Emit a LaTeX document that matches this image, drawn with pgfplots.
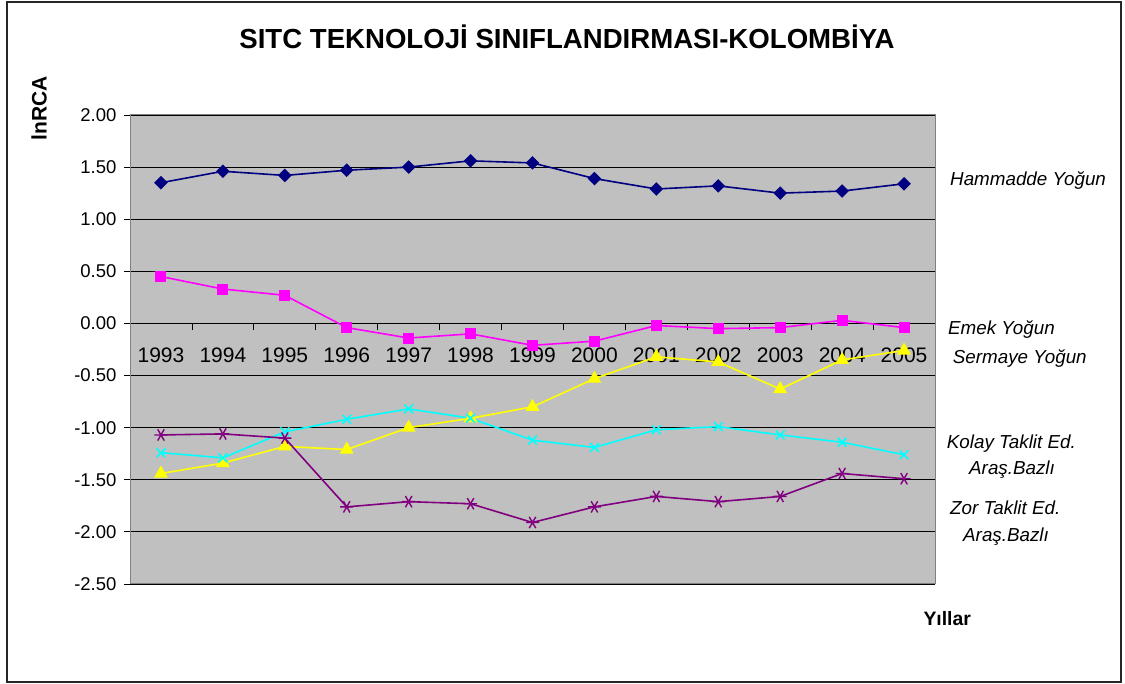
\documentclass[border=0pt]{standalone}
\usepackage{pgfplots}
\pgfplotsset{compat=1.18}
\usepackage{fontspec}
\setmainfont{Liberation Sans}
\definecolor{plotbg}{HTML}{C0C0C0}
\definecolor{navyc}{HTML}{000080}
\definecolor{magc}{HTML}{FF00FF}
\definecolor{yelc}{HTML}{FFFF00}
\definecolor{cyac}{HTML}{00FFFF}
\definecolor{purc}{HTML}{800080}
\definecolor{pborder}{HTML}{808080}
\begin{document}
\begin{tikzpicture}[x=1pt,y=1pt]
\path (0,0) rectangle (1125,684);
\draw[line width=1.3pt, black!85] (7,2) rectangle (1121,682);
\begin{axis}[
  at={(130pt,100pt)}, anchor=south west,
  width=805pt, height=469pt, scale only axis,
  xmin=0.5, xmax=13.5, ymin=-2.5, ymax=2,
  axis x line=middle, axis y line=left,
  axis line style={-, black, line width=0.8pt},
  hide obscured x ticks=false, hide obscured y ticks=false,
  xtick={1,2,3,4,5,6,7,8,9,10,11,12,13},
  xticklabels={1993,1994,1995,1996,1997,1998,1999,2000,2001,2002,2003,2004,2005},
  major x tick style={draw=none},
  minor xtick={0.5,1.5,...,13.5},
  ytick={-2.5,-2,...,2},
  ymajorgrids, grid style={black, line width=0.8pt},
  tick align=outside, major tick length=6pt, minor tick length=7pt,
  tick style={black, line width=0.8pt},
  axis background/.style={fill=plotbg},
  /pgf/number format/assume math mode=true,
  yticklabel style={font=\fontsize{18.5}{20}\selectfont, xshift=-4pt, /pgf/number format/fixed, /pgf/number format/fixed zerofill, /pgf/number format/precision=2},
  xticklabel style={font=\fontsize{21}{24}\selectfont, yshift=-15pt},
  clip=false,
]
\draw[pborder, line width=1pt] (rel axis cs:0,0) rectangle (rel axis cs:1,1);
\addplot[color=navyc, line width=1.6pt, mark=square*, mark size=4pt, mark options={rotate=45, solid, fill=navyc}] coordinates {
(1,1.35)(2,1.46)(3,1.42)(4,1.47)(5,1.50)(6,1.56)(7,1.54)(8,1.39)(9,1.29)(10,1.32)(11,1.25)(12,1.27)(13,1.34)};
\addplot[color=magc, line width=1.6pt, mark=square*, mark size=4.7pt, mark options={solid, fill=magc}] coordinates {
(1,0.45)(2,0.33)(3,0.27)(4,-0.04)(5,-0.14)(6,-0.10)(7,-0.21)(8,-0.17)(9,-0.02)(10,-0.05)(11,-0.04)(12,0.03)(13,-0.04)};
\addplot[color=yelc, line width=1.6pt, mark=triangle*, mark size=6.4pt, mark options={solid, fill=yelc}] coordinates {
(1,-1.44)(2,-1.34)(3,-1.18)(4,-1.21)(5,-1.00)(6,-0.91)(7,-0.80)(8,-0.53)(9,-0.32)(10,-0.37)(11,-0.63)(12,-0.35)(13,-0.26)};
\addplot[color=cyac, line width=1.6pt, mark=x, mark size=6.2pt, mark options={solid, line width=1.6pt}] coordinates {
(1,-1.24)(2,-1.29)(3,-1.04)(4,-0.92)(5,-0.82)(6,-0.91)(7,-1.12)(8,-1.19)(9,-1.02)(10,-0.99)(11,-1.07)(12,-1.14)(13,-1.26)};
\addplot[color=purc, line width=1.6pt, mark=asterisk, mark size=6.5pt, mark options={solid, rotate=90, line width=1.4pt}] coordinates {
(1,-1.07)(2,-1.06)(3,-1.10)(4,-1.76)(5,-1.71)(6,-1.73)(7,-1.91)(8,-1.76)(9,-1.66)(10,-1.71)(11,-1.66)(12,-1.44)(13,-1.49)};
\end{axis}
\node[anchor=base, inner sep=0pt, font=\fontsize{27.6}{32}\selectfont\bfseries] at (567,635.7) {SITC TEKNOLOJİ SINIFLANDIRMASI-KOLOMBİYA};
\node[anchor=base, rotate=90, inner sep=0pt, font=\fontsize{21}{24}\selectfont\bfseries] at (46.7,575.7) {lnRCA};
\node[anchor=base west, inner sep=0pt, font=\fontsize{19.4}{22}\selectfont\bfseries] at (923.3,58) {Yıllar};
\begin{scope}[every node/.style={inner sep=0pt, font=\fontsize{18.8}{22}\selectfont\itshape}]
\node[anchor=base west] at (950,498) {Hammadde Yoğun};
\node[anchor=base west] at (948,349) {Emek Yoğun};
\node[anchor=base west] at (952.7,320.7) {Sermaye Yoğun};
\node[anchor=base west] at (946.7,235.7) {Kolay Taklit Ed.};
\node[anchor=base west] at (969,209) {Araş.Bazlı};
\node[anchor=base west] at (950,169) {Zor Taklit Ed.};
\node[anchor=base west] at (963,142.3) {Araş.Bazlı};
\end{scope}
\end{tikzpicture}
\end{document}
